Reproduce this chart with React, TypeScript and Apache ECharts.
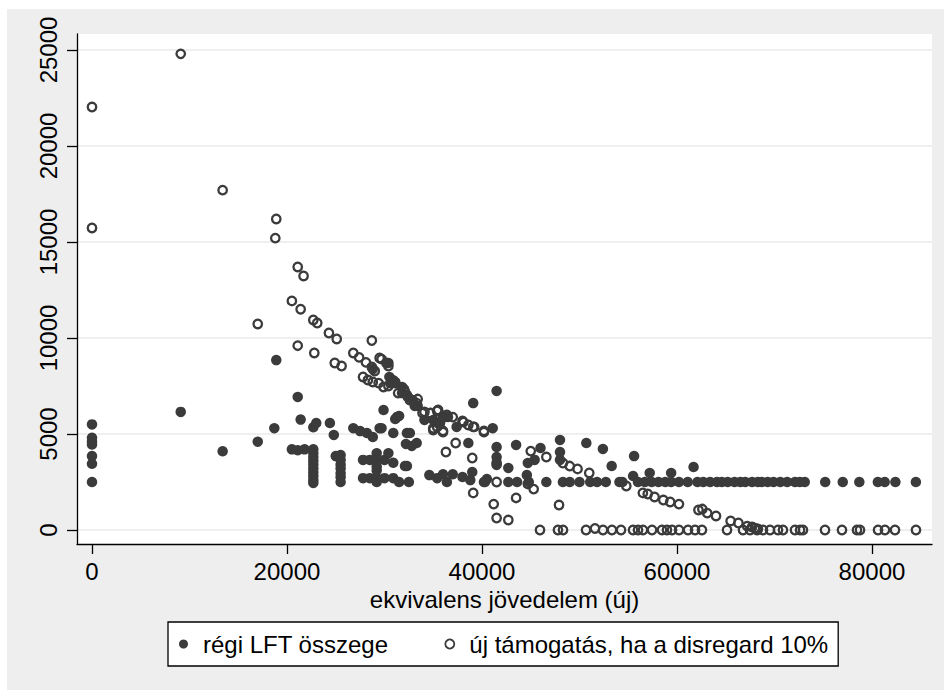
import React, { useEffect, useRef } from "react";
import * as echarts from "echarts";

// x: ekvivalens jövedelem (új), y: amount
const oldLftPoints: number[][] = [
  [0, 5500], [0, 4800], [0, 4600], [0, 4450], [0, 3850], [0, 3450], [0, 2500],
  [9100, 6150], [13400, 4100], [17000, 4600], [18900, 8850], [18700, 5300],
  [21100, 6930], [21400, 5750], [22700, 5350], [23000, 5570], [24400, 5570], [24800, 4950],
  [20500, 4200], [21100, 4150], [21800, 4200],
  [22700, 4200], [22700, 4000], [22700, 3800], [22700, 3600], [22700, 3400], [22700, 3200],
  [22700, 3000], [22700, 2800], [22700, 2600], [22700, 2450],
  [25000, 3850], [25500, 3900], [25500, 3650], [25500, 3400], [25500, 3200], [25500, 2950],
  [25500, 2750], [25500, 2500],
  [26800, 5300], [27500, 5150], [28200, 5050], [28800, 4840], [29500, 5300], [29900, 6250],
  [30900, 5050], [31100, 5780], [31500, 5940], [32300, 5050], [32200, 4480], [32800, 4380],
  [33300, 4530], [32300, 3330], [27800, 3650], [27800, 2700],
  [29200, 4000], [28500, 3650], [29200, 3650], [30000, 3650], [29200, 3100], [28500, 2700],
  [29200, 2700], [30000, 2700], [30900, 3500], [30900, 2700], [29200, 3300], [29200, 2500],
  [30400, 4000], [31500, 2500], [32500, 2500], [32100, 3330],
  [28800, 8380], [30400, 8700], [30500, 7970], [30900, 7800], [31100, 7710], [31800, 7450],
  [32300, 7030], [32900, 6770], [33400, 6460], [34100, 5730], [35000, 5730], [35700, 5570],
  [36200, 5890], [37400, 5370], [39100, 6610], [31300, 5890], [32600, 5050], [30600, 7650],
  [31800, 7130], [33100, 6460], [29700, 5300],
  [41500, 7240], [41100, 5300], [38600, 4530],
  [34600, 2860], [36000, 2900], [35400, 2700], [36400, 2500], [37000, 2900], [38000, 2760],
  [38800, 2600], [39000, 3020], [40200, 2500], [40500, 2650],
  [41500, 4320], [41500, 3800], [41500, 3390], [42700, 3230], [42700, 2500], [43600, 2500],
  [43500, 4430], [44700, 3490], [44600, 2860], [46000, 4270], [45400, 3650], [46600, 2500],
  [48000, 4690], [48000, 4060], [48000, 3650], [44800, 2500],
  [50700, 4530], [52400, 4220], [53300, 3330], [55600, 3850], [55500, 2810], [57200, 2970],
  [59400, 2970], [61700, 3280],
  [40300, 2500], [48300, 2500], [49000, 2500], [50000, 2500], [51100, 2500], [51800, 2500],
  [52700, 2500], [54100, 2500], [54400, 2500], [56000, 2500], [56700, 2500], [57400, 2500],
  [58100, 2500], [58800, 2500], [59400, 2500], [60200, 2500], [61100, 2500], [62100, 2500],
  [62700, 2500], [63400, 2500], [64100, 2500], [64600, 2500], [65200, 2500], [65900, 2500],
  [66500, 2500], [67000, 2500], [67700, 2500], [68300, 2500], [68700, 2500], [69300, 2500],
  [69900, 2500], [70600, 2500], [71300, 2500], [72100, 2500], [72600, 2500], [73100, 2500],
  [75200, 2500], [77000, 2500], [78700, 2500], [80600, 2500], [81300, 2500], [82400, 2500],
  [84500, 2500],
];

const newSupportPoints: number[][] = [
  [9100, 24800], [0, 22030], [0, 15730], [13400, 17700], [18900, 16200], [18800, 15200],
  [21100, 13700], [21700, 13230], [20500, 11930], [21400, 11500], [22700, 10940], [23100, 10780],
  [17000, 10730], [24300, 10260], [25100, 9950], [21100, 9600], [22800, 9220], [24900, 8700],
  [25600, 8540], [26800, 9220], [27400, 8990], [28100, 8730], [28700, 8490], [28700, 9870],
  [29500, 8960], [29700, 8900], [30200, 8700], [29000, 8280], [30400, 8540],
  [27800, 7970], [28300, 7810], [28800, 7710], [29400, 7650], [29900, 7450], [30400, 7500],
  [31100, 7650], [31400, 7130], [32000, 7340], [32100, 7190], [32400, 6930], [33300, 6610],
  [33400, 6820], [32600, 6770], [33900, 6090], [34100, 6150], [34700, 6090], [35400, 6200],
  [35500, 6250], [36000, 5940], [36400, 5990], [36500, 5890], [37000, 5880], [38000, 5680],
  [38100, 5620], [38600, 5470], [39100, 5370], [39200, 5370], [40200, 5160], [35000, 5300],
  [36000, 5160], [35400, 5370], [35000, 5210], [36000, 5100],
  [37300, 4530], [36300, 4060], [39000, 3750], [39100, 1930], [41200, 1350], [41500, 625],
  [42700, 520], [43500, 1670], [41500, 3490], [41500, 2500], [45000, 4110], [45300, 2130],
  [44700, 2400], [46600, 3800], [47900, 1300], [48300, 3490], [49000, 3330], [49800, 3180],
  [51000, 2970], [54800, 2290], [40200, 5100],
  [56500, 1930], [57000, 1875], [57700, 1720], [58600, 1560], [59300, 1460], [60200, 1350],
  [62200, 1040], [62600, 1090], [63100, 880], [64000, 730], [65500, 470], [66300, 365],
  [67200, 200], [67700, 156], [68000, 100], [68300, 50],
  [45950, 0], [47790, 0], [48310, 0], [50670, 0], [51590, 80], [52410, 0], [53330, 0],
  [54260, 0], [55490, 0], [56000, 0], [56510, 0], [57440, 0], [58460, 0], [58970, 0],
  [59490, 0], [60210, 0], [61130, 0], [61850, 0], [62560, 0], [65130, 0], [66770, 0],
  [67490, 0], [68210, 0], [68820, 0], [69540, 0], [70360, 0], [70870, 0], [72100, 0],
  [72620, 0], [72920, 0], [75180, 0], [76920, 0], [78460, 0], [78770, 0], [80620, 0],
  [81330, 0], [82360, 0], [84510, 0],
];

const seriesNames = ["régi LFT összege", "új támogatás, ha a disregard 10%"];
const xTicks = [0, 20000, 40000, 60000, 80000];
const yTicks = [0, 5000, 10000, 15000, 20000, 25000];
const xTitle = "ekvivalens jövedelem (új)";

export default function App() {
  const ref = useRef<HTMLDivElement>(null);
  useEffect(() => {
    if (!ref.current) return;
    const chart = echarts.init(ref.current, undefined, { renderer: "svg" });
    const ink = "#3b3b3b";
    chart.setOption({
      animation: false,
      backgroundColor: "#EEEEEE",
      textStyle: { fontFamily: "Liberation Sans, Arial, sans-serif" },
      grid: {
        left: 70,
        top: 25,
        right: 12,
        bottom: 146,
        show: true,
        backgroundColor: "#ffffff",
        borderWidth: 0,
      },
      xAxis: {
        type: "value",
        min: -1538,
        max: 86154,
        axisLine: { show: true, onZero: false, lineStyle: { color: "#000", width: 1.3 } },
        axisTick: { show: true, length: 10, customValues: xTicks, lineStyle: { color: "#000", width: 1.3 } },
        axisLabel: {
          customValues: xTicks,
          formatter: (v: number) => String(v),
          fontSize: 24,
          color: "#000",
          margin: 15,
        },
        splitLine: { show: false },
        name: xTitle,
        nameLocation: "middle",
        nameGap: 37,
        nameTextStyle: { fontSize: 24, color: "#000" },
      },
      yAxis: {
        type: "value",
        min: -729,
        max: 25833,
        axisLine: { show: true, onZero: false, lineStyle: { color: "#000", width: 1.3 } },
        axisTick: { show: true, length: 10, customValues: yTicks, lineStyle: { color: "#000", width: 1.3 } },
        axisLabel: {
          customValues: yTicks,
          formatter: (v: number) => String(v),
          rotate: 90,
          fontSize: 24,
          color: "#000",
          margin: 17,
        },
        splitLine: { show: true, lineStyle: { color: "#EAEAEA", width: 1.5 } },
      },
      legend: {
        left: 161,
        top: 613,
        orient: "horizontal",
        backgroundColor: "#ffffff",
        borderColor: "#000",
        borderWidth: 1.3,
        padding: [10, 10, 10, 11],
        itemWidth: 29,
        itemHeight: 9,
        itemGap: 56,
        textStyle: { fontSize: 24, color: "#000" },
        data: [
          { name: seriesNames[0], itemStyle: { color: ink, borderWidth: 0 } },
          { name: seriesNames[1], itemStyle: { color: "rgba(0,0,0,0)", borderColor: ink, borderWidth: 1.8 } },
        ],
        selectedMode: false,
      },
      series: [
        {
          name: seriesNames[0],
          type: "scatter",
          data: oldLftPoints,
          symbol: "circle",
          symbolSize: 10.5,
          itemStyle: { color: ink, opacity: 1 },
          silent: true,
        },
        {
          name: seriesNames[1],
          type: "scatter",
          data: newSupportPoints,
          symbol: "circle",
          symbolSize: 8.5,
          itemStyle: { color: "rgba(0,0,0,0)", borderColor: ink, borderWidth: 2.3, opacity: 1 },
          silent: true,
        },
      ],
    });
    return () => chart.dispose();
  }, []);
  return (
    <div
      ref={ref}
      style={{ position: "absolute", left: 7, top: 9, width: 937, height: 681 }}
    />
  );
}
